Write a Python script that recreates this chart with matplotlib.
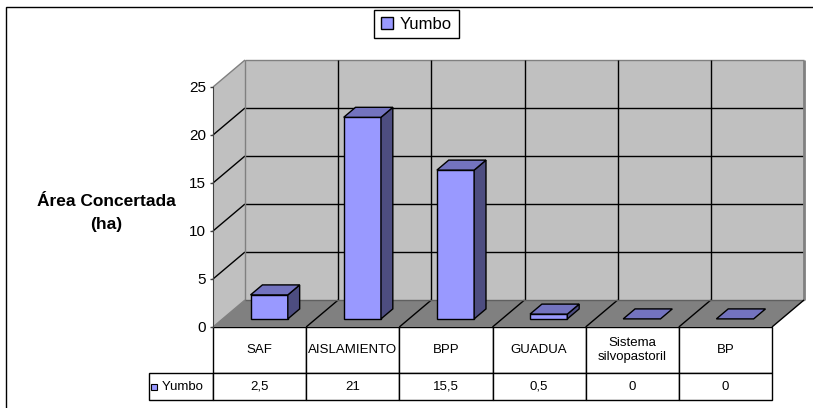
import numpy as np
import matplotlib
matplotlib.use('Agg')
import matplotlib.pyplot as plt
from matplotlib.patches import Polygon, Rectangle, Patch
from matplotlib.table import Table

plt.rcParams['font.family'] = ['Liberation Sans', 'DejaVu Sans']

# data
categories = ['SAF', 'AISLAMIENTO', 'BPP', 'GUADUA', 'Sistema\nsilvopastoril', 'BP']
values = [2.5, 21, 15.5, 0.5, 0, 0]
value_labels = ['2,5', '21', '15,5', '0,5', '0', '0']
series_name = 'Yumbo'
yticks = [0, 5, 10, 15, 20, 25]

front_col = '#9999FF'
top_col = '#7373BF'
side_col = '#4D4D80'
wall_col = '#C0C0C0'
floor_col = '#808080'

W, H = 813, 408
fig = plt.figure(figsize=(W / 100, H / 100), dpi=100)

# front plane of the pseudo 3d box (pixels)
x0, x1 = 213, 772
ytop, ybot = 87, 327
ax = fig.add_axes([x0 / W, 1 - ybot / H, (x1 - x0) / W, (ybot - ytop) / H])
n = len(categories)
ymax = yticks[-1]
ax.set_xlim(0, n)
ax.set_ylim(0, ymax)
ax.patch.set_visible(False)

# depth of the box in data units (32 px right, 27 px up)
kx = 32 / ((x1 - x0) / n)
ky = 27 / ((ybot - ytop) / ymax)

def seg(p, q, color='black', lw=1.0, z=1):
    ax.plot([p[0], q[0]], [p[1], q[1]], color=color, lw=lw, zorder=z,
            clip_on=False, solid_capstyle='butt')

def poly(pts, fc, ec='none', lw=1.0, z=1):
    ax.add_patch(Polygon(pts, closed=True, facecolor=fc, edgecolor=ec,
                         lw=lw, zorder=z, clip_on=False))

# walls and floor
poly([(0, 0), (kx, ky), (kx, ymax + ky), (0, ymax)], wall_col, z=0)
poly([(kx, ky), (n + kx, ky), (n + kx, ymax + ky), (kx, ymax + ky)], wall_col, z=0)
poly([(0, 0), (n, 0), (n + kx, ky), (kx, ky)], floor_col, z=0.5)

for v in yticks[1:]:
    c = '#808080' if v == ymax else 'black'
    seg((kx, v + ky), (n + kx, v + ky), color=c)
    seg((0, v), (kx, v + ky), color=c)
for i in range(1, n):
    seg((i + kx, ky), (i + kx, ymax + ky))
    seg((i, 0), (i + kx, ky))
seg((kx, ky), (kx, ymax + ky), color='#808080')
seg((n + kx, ky), (n + kx, ymax + ky), color='#808080', lw=2)
seg((kx, ky), (n + kx, ky), color='#606060')
seg((0, 0), (kx, ky), color='#808080')
seg((n, 0), (n + kx, ky))

# 3d bars
bw = 0.4
d0, d1 = 0.3, 0.67
for i, v in enumerate(values):
    xl = i + 0.5 - bw / 2 + d0 * kx
    xr = i + 0.5 + bw / 2 + d0 * kx
    yb = d0 * ky
    dx, dy = (d1 - d0) * kx, (d1 - d0) * ky
    if v > 0:
        poly([(xl, yb), (xr, yb), (xr, yb + v), (xl, yb + v)], front_col, 'black', z=3)
        poly([(xr, yb), (xr + dx, yb + dy), (xr + dx, yb + v + dy), (xr, yb + v)],
             side_col, 'black', z=3)
    poly([(xl, yb + v), (xr, yb + v), (xr + dx, yb + v + dy), (xl + dx, yb + v + dy)],
         top_col, 'black', z=3)

# value axis
ax.set_xticks([])
ax.set_yticks(yticks)
ax.tick_params(axis='y', length=2.5, width=1, color='#404040', pad=2.5, labelsize=11)
for s in ['top', 'right', 'bottom']:
    ax.spines[s].set_visible(False)
ax.spines['left'].set_color('#404040')
ax.spines['left'].set_zorder(2)

ax.set_ylabel('Área Concertada\n(ha)', rotation=0, fontsize=12.5, fontweight='bold',
              ha='center', va='center', linespacing=1.6)
ax.yaxis.set_label_coords((106 - x0) / (x1 - x0), (ybot - 213) / (ybot - ytop))

# data table under the chart (column 0 holds the series label)
lab_w = 64 / (x1 - x0)
h0 = 46 / (ybot - ytop)
h1 = 27 / (ybot - ytop)
tbl = Table(ax, bbox=[-lab_w, -(h0 + h1), 1 + lab_w, h0 + h1])
for j, cat in enumerate(categories):
    tbl.add_cell(0, j + 1, 1 / n, h0, text=cat, loc='center', edgecolor='black')
    tbl.add_cell(1, j + 1, 1 / n, h1, text=value_labels[j], loc='center', edgecolor='black')
tbl.add_cell(1, 0, lab_w, h1, text='  ' + series_name, loc='left', edgecolor='black')
tbl.auto_set_font_size(False)
tbl.set_fontsize(9.5)
tbl.set_clip_on(False)
ax.add_table(tbl)
ax.add_patch(Rectangle((-lab_w + 1.5 / (x1 - x0), -(h0 + h1) + 10 / (ybot - ytop)),
                       6 / (x1 - x0), 6 / (ybot - ytop), transform=ax.transAxes,
                       facecolor=front_col, edgecolor='black', lw=0.8, clip_on=False, zorder=5))

# legend
fig.legend(handles=[Patch(facecolor=front_col, edgecolor='black', label=series_name)],
           loc='upper center', bbox_to_anchor=(416.5 / W, 1 - 10 / H), fontsize=12,
           fancybox=False, edgecolor='black', framealpha=1, handlelength=0.7,
           handleheight=0.7, handletextpad=0.45, borderpad=0.4, borderaxespad=0)

# chart area border
fig.add_artist(Rectangle((6 / W, -0.1), 1.2, 1.1 - 7 / H, transform=fig.transFigure,
                         fill=False, edgecolor='black', lw=1))

fig.savefig('out.png', dpi=100)
